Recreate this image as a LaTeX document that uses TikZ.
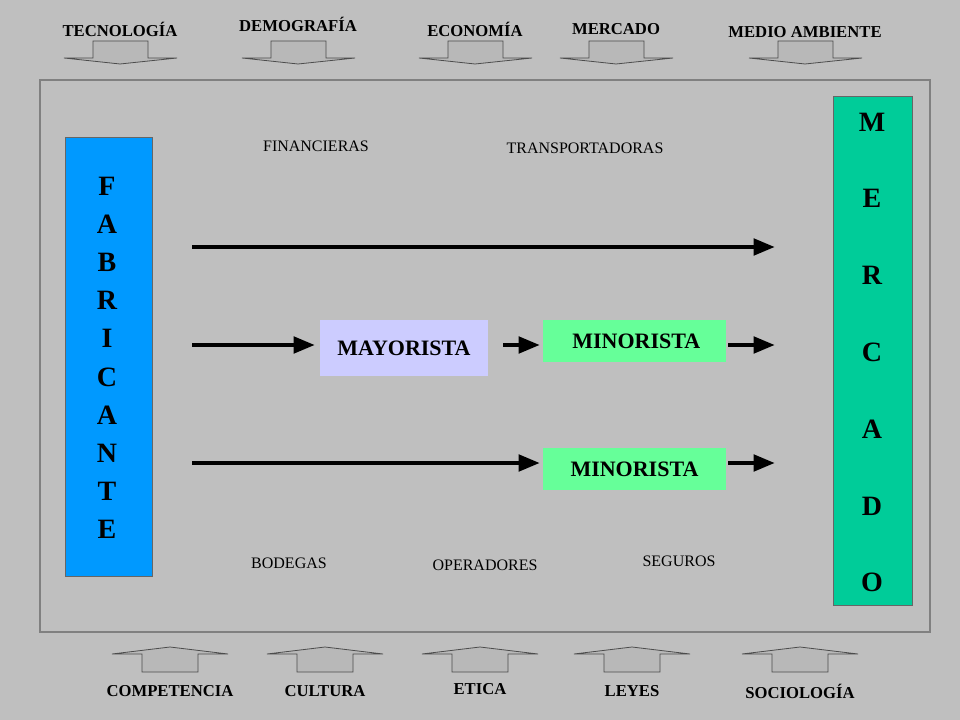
\documentclass[tikz,border=0pt]{standalone}
\usepackage{fontspec}
\setmainfont{Liberation Serif}
\begin{document}
\begin{tikzpicture}[x=0.75pt,y=-0.75pt,
  lbl/.style={font=\bfseries\fontsize{12.5}{14}\selectfont,inner sep=0},
  sm/.style={font=\fontsize{12}{14}\selectfont,inner sep=0},
  big/.style={font=\bfseries\fontsize{21}{24}\selectfont,inner sep=0},
  mid/.style={font=\bfseries\fontsize{16.5}{18}\selectfont,inner sep=0},
  fat/.style={line width=3.5pt,-{Triangle[length=16pt,width=12pt]}},
  fatarrow/.style={draw=black!70,fill=black!28,line width=0.6pt}]
\usetikzlibrary{arrows.meta}
\fill[black!25] (0,0) rectangle (960,720);
\useasboundingbox (0,0) rectangle (960,720);
\draw[black!50,line width=2.2pt] (40,80) rectangle (930,632);
% top arrows
\foreach \cx/\ly/\t in {120/29/TECNOLOGÍA,298/24/DEMOGRAFÍA,475/29/ECONOMÍA,616/29/MERCADO,805/32/MEDIO AMBIENTE}{
  \node[lbl] (t\cx) at (\cx,\ly) {\t};
  \draw[fatarrow] (\cx-27,41) -- (\cx+28,41) -- (\cx+28,58) -- (\cx+57,58) -- (\cx,64) -- (\cx-56,58) -- (\cx-27,58) -- cycle;
}
% bottom arrows
\foreach \cx/\ly/\t in {170/691/COMPETENCIA,325/691/CULTURA,480/689/ETICA,632/691/LEYES,800/691/SOCIOLOGÍA}{
  \node[lbl] (b\cx) at (\cx,\ly) {\t};
  \draw[fatarrow] (\cx-28,672) -- (\cx+28,672) -- (\cx+28,654) -- (\cx+58,654) -- (\cx,647) -- (\cx-58,654) -- (\cx-28,654) -- cycle;
}
% side boxes
\node[draw=black!60,fill={rgb,255:red,0;green,153;blue,255},minimum width=87*0.75pt,minimum height=439*0.75pt,inner sep=0] (fab) at (108.5,356.5) {};
\foreach \l [count=\i from 0] in {F,A,B,R,I,C,A,N,T,E}
  \node[big] (f\i) at (107,186+38.2*\i) {\l};
\node[draw=black!60,fill={rgb,255:red,0;green,204;blue,153},minimum width=79*0.75pt,minimum height=509*0.75pt,inner sep=0] (mer) at (872.5,350.5) {};
\foreach \l [count=\i from 0] in {M,E,R,C,A,D,O}
  \node[big] (m\i) at (872,122+76.8*\i) {\l};
% middle
\node[mid,fill={rgb,255:red,204;green,204;blue,255},minimum width=168*0.75pt,minimum height=56*0.75pt] (may) at (404,348) {MAYORISTA};
\node[mid,fill={rgb,255:red,102;green,255;blue,153},minimum width=183*0.75pt,minimum height=42*0.75pt] (min1) at (634.5,341) {\,MINORISTA};
\node[mid,fill={rgb,255:red,102;green,255;blue,153},minimum width=183*0.75pt,minimum height=42*0.75pt] (min2) at (634.5,469) {MINORISTA};
\coordinate (a1) at (192,247); \coordinate (a2) at (775,247);
\coordinate (b1) at (192,345); \coordinate (b2) at (315,345);
\coordinate (c1) at (503,345); \coordinate (c2) at (540,345);
\coordinate (d1) at (728,345); \coordinate (d2) at (775,345);
\coordinate (e1) at (192,463); \coordinate (e2) at (540,463);
\coordinate (g1) at (728,463); \coordinate (g2) at (775,463);
\foreach \p/\q in {a1/a2,b1/b2,c1/c2,d1/d2,e1/e2,g1/g2} \draw[fat] (\p) -- (\q);
\node[sm] (fin) at (316,146) {FINANCIERAS};
\node[sm] (tra) at (585,148) {TRANSPORTADORAS};
\node[sm] (bod) at (289,563) {BODEGAS};
\node[sm] (ope) at (485,565) {OPERADORES};
\node[sm] (seg) at (679,561) {SEGUROS};
\end{tikzpicture}
\end{document}
